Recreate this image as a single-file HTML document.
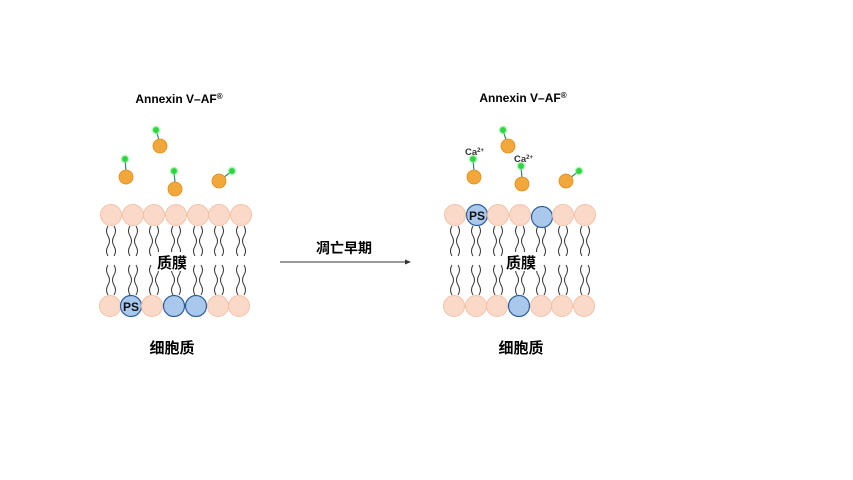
<!DOCTYPE html>
<html><head><meta charset="utf-8"><style>
html,body{margin:0;padding:0;background:#fff;}
svg{display:block;}
text{font-family:"Liberation Sans","Noto Sans CJK SC",sans-serif;}
</style></head><body>
<svg width="853" height="480" viewBox="0 0 853 480" xmlns="http://www.w3.org/2000/svg">
<defs>
<radialGradient id="gl"><stop offset="0" stop-color="#22d43a"/><stop offset="0.5" stop-color="#3ee04f"/><stop offset="1" stop-color="#c8f5cc" stop-opacity="0"/></radialGradient>
<g id="tail" fill="none" stroke="#333" stroke-width="1">
<path d="M-3,226 q-3,5 0,10 q3,5 0,10 q-3,5 0,10"/>
<path d="M3,226 q3,5 0,10 q-3,5 0,10 q3,5 0,10"/>
<path d="M-3,265 q-3,5 0,10 q3,5 0,10 q-3,5 0,10"/>
<path d="M3,265 q3,5 0,10 q-3,5 0,10 q3,5 0,10"/>
</g>
<g id="ph"><circle r="10.5" fill="#fbd9c8" stroke="#f3c2aa" stroke-width="1"/></g>
<g id="bh"><circle r="10.5" fill="#a9c8ec" stroke="#2d5d9c" stroke-width="1.2"/></g>
<g id="or"><circle r="7" fill="#f2a73a" stroke="#e08f1e" stroke-width="0.8"/></g>
<g id="gr"><circle r="5" fill="url(#gl)"/><circle r="2.6" fill="#2bd640"/></g>
</defs>

<!-- Left -->
<text x="179" y="103" font-size="12" font-weight="bold" text-anchor="middle">Annexin V–AF<tspan font-size="8" dy="-4">®</tspan></text>
<g stroke="#2b8a6e" stroke-width="1.2">
<line x1="125" y1="159" x2="126" y2="171"/><line x1="156" y1="130" x2="159" y2="140"/>
<line x1="174" y1="171" x2="175" y2="183"/><line x1="232" y1="171" x2="223" y2="178"/>
</g>
<use href="#or" x="126" y="177"/><use href="#or" x="160" y="146"/><use href="#or" x="175" y="189"/><use href="#or" x="219" y="181"/>
<use href="#gr" x="125" y="159"/><use href="#gr" x="156" y="130"/><use href="#gr" x="174" y="171"/><use href="#gr" x="232" y="171"/>

<use href="#tail" x="111"/><use href="#tail" x="133"/><use href="#tail" x="154"/><use href="#tail" x="176"/><use href="#tail" x="198"/><use href="#tail" x="219"/><use href="#tail" x="241"/>
<rect x="154" y="252" width="36" height="19" fill="#fff"/>
<use href="#ph" x="111" y="215"/><use href="#ph" x="133" y="215"/><use href="#ph" x="154" y="215"/><use href="#ph" x="176" y="215"/><use href="#ph" x="198" y="215"/><use href="#ph" x="219" y="215"/><use href="#ph" x="241" y="215"/>
<use href="#ph" x="110" y="306"/><use href="#bh" x="131" y="306"/><use href="#ph" x="152" y="306"/><use href="#bh" x="174" y="306"/><use href="#bh" x="196" y="306"/><use href="#ph" x="218" y="306"/><use href="#ph" x="239" y="306"/>
<text x="131" y="311" font-size="12" font-weight="bold" text-anchor="middle" fill="#111">PS</text>
<text x="172" y="268" font-size="15" font-weight="bold" text-anchor="middle">质膜</text>
<text x="172" y="353" font-size="15" font-weight="bold" text-anchor="middle">细胞质</text>

<!-- Arrow -->
<text x="344" y="253" font-size="14" font-weight="bold" text-anchor="middle">凋亡早期</text>
<line x1="280" y1="262" x2="406" y2="262" stroke="#333" stroke-width="1"/>
<path d="M411,262 L405,259.5 L405,264.5 Z" fill="#333"/>

<!-- Right -->
<text x="523" y="102" font-size="12" font-weight="bold" text-anchor="middle">Annexin V–AF<tspan font-size="8" dy="-4">®</tspan></text>
<g stroke="#2b8a6e" stroke-width="1.2">
<line x1="473" y1="159" x2="474" y2="171"/><line x1="503" y1="130" x2="506" y2="140"/>
<line x1="521" y1="166" x2="522" y2="178"/><line x1="579" y1="171" x2="570" y2="178"/>
</g>
<use href="#or" x="474" y="177"/><use href="#or" x="508" y="146"/><use href="#or" x="522" y="184"/><use href="#or" x="566" y="181"/>
<use href="#gr" x="473" y="159"/><use href="#gr" x="503" y="130"/><use href="#gr" x="521" y="166"/><use href="#gr" x="579" y="171"/>
<text x="465" y="155" font-size="9.5" font-weight="bold" fill="#333">Ca<tspan font-size="6" dy="-3">2+</tspan></text>
<text x="514" y="162" font-size="9.5" font-weight="bold" fill="#333">Ca<tspan font-size="6" dy="-3">2+</tspan></text>

<use href="#tail" x="455"/><use href="#tail" x="476"/><use href="#tail" x="498"/><use href="#tail" x="520"/><use href="#tail" x="541"/><use href="#tail" x="563"/><use href="#tail" x="585"/>
<rect x="503" y="252" width="36" height="19" fill="#fff"/>
<use href="#ph" x="455" y="215"/><use href="#bh" x="477" y="215"/><use href="#ph" x="498" y="215"/><use href="#ph" x="520" y="215"/><use href="#bh" x="542" y="217"/><use href="#ph" x="563" y="215"/><use href="#ph" x="585" y="215"/>
<use href="#ph" x="454" y="306"/><use href="#ph" x="476" y="306"/><use href="#ph" x="497" y="306"/><use href="#bh" x="519" y="306"/><use href="#ph" x="541" y="306"/><use href="#ph" x="562" y="306"/><use href="#ph" x="584" y="306"/>
<text x="477" y="220" font-size="12" font-weight="bold" text-anchor="middle" fill="#111">PS</text>
<text x="521" y="268" font-size="15" font-weight="bold" text-anchor="middle">质膜</text>
<text x="521" y="353" font-size="15" font-weight="bold" text-anchor="middle">细胞质</text>
</svg>
</body></html>
